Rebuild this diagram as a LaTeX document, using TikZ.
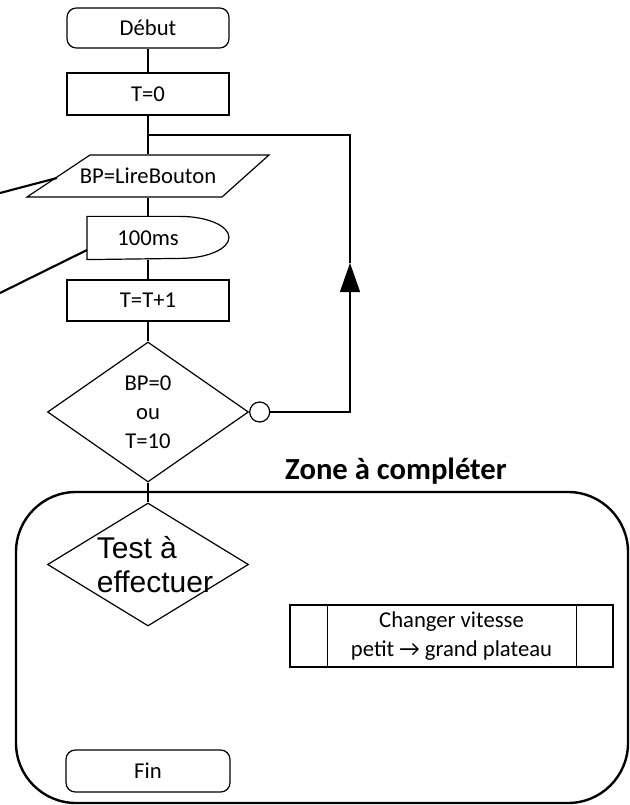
\documentclass[tikz,border=0pt]{standalone}
\usepackage{fontspec}
\setmainfont{Carlito}
\newfontfamily\arialfont{Liberation Sans}
\usetikzlibrary{arrows.meta, shapes.geometric}
\usetikzlibrary{positioning}

\tikzset{
  bloc/.style={draw, line width=0.9pt, minimum width=121.5pt, minimum height=30pt, inner sep=0pt,
    font=\fontsize{17}{21.75}\selectfont},
  terminal/.style={bloc, rounded corners=7pt},
  losange/.style={bloc, diamond, align=center},
  lien/.style={line width=0.9pt},
  renvoi/.style={line width=1.6pt},
}

\begin{document}
\begin{tikzpicture}[x=0.75pt, y=-0.75pt]
  \useasboundingbox (0,0) rectangle (629,805);
  % organigramme
  \node[terminal] (debut) at (148,28) {Début};
  \node[bloc, minimum height=31.5pt] (tzero) at (148,94) {T=0};
  \coordinate (boucle) at (148,135);
  \node[bloc, draw=none, minimum height=31.5pt] (lire) at (148,176) {BP=LireBouton};
  \draw[lien] ([xshift=-43.5pt, yshift=15.75pt]lire.center) -- ([xshift=90.75pt, yshift=15.75pt]lire.center)
    -- ([xshift=55.5pt, yshift=-15.75pt]lire.center) -- ([xshift=-90.75pt, yshift=-15.75pt]lire.center) -- cycle;
  \node[bloc, draw=none, minimum width=0pt, minimum height=31.5pt] (attente) at (148,238) {100ms};
  \draw[lien] ([xshift=-45.75pt]attente.north) -- ([xshift=24pt]attente.north)
    arc[start angle=90, end angle=-90, x radius=36.75pt, y radius=15.75pt]
    -- ([xshift=-45.75pt]attente.south) -- cycle;
  \node[bloc, minimum height=30.75pt] (incr) at (148,300.5) {T=T+1};
  \node[losange, minimum width=150.75pt, minimum height=105pt] (cond) at (148,412) {BP=0\\ou\\T=10};
  \node[draw, circle, line width=0.9pt, minimum size=15pt, inner sep=0pt, anchor=west] (non) at (cond.east) {};

  % zone a completer
  \node[draw, line width=1.8pt, rounded corners=45pt, minimum width=459pt, minimum height=233.25pt] (zone) at (322,647.5) {};
  \node[font=\fontsize{23}{27}\selectfont\bfseries, anchor=base, inner sep=0pt] (titre) at (396,479) {Zone à compléter};
  \node[losange, minimum width=150.75pt, minimum height=92.25pt] (test) at (148,564.5) {};
  \node[font=\arialfont\fontsize{22.5}{25.5}\selectfont, align=left, inner sep=0pt] (testtxt) at (155,565) {Test à\\effectuer};
  \node[bloc, minimum width=242.25pt, minimum height=46.5pt, align=center] (vitesse) at (451.5,636) {Changer vitesse\\petit → grand plateau};
  \draw[lien] ([xshift=28.5pt]vitesse.north west) -- ([xshift=28.5pt]vitesse.south west);
  \draw[lien] ([xshift=-27.75pt]vitesse.north east) -- ([xshift=-27.75pt]vitesse.south east);
  \node[terminal, minimum width=123pt, minimum height=31.5pt] (fin) at (148,771) {Fin};

  % liaisons
  \draw[lien] (debut) -- (tzero);
  \draw[lien] (tzero) -- (lire);
  \draw[lien] (lire) -- (attente);
  \draw[lien] (attente) -- (incr);
  \draw[lien] (incr) -- (cond);
  \draw[lien] (cond) -- (test);
  \coordinate (fleche) at (350,263);
  \draw[lien, -{Triangle[length=21.75pt, width=15pt]}] (non) -| (fleche);
  \draw[lien] (fleche) |- (boucle);

  % renvois
  \coordinate (g1) at (0,193);
  \coordinate (g2) at (0,293);
  \draw[renvoi] (g1) -- ([xshift=-68.25pt, yshift=-1.5pt]lire.center);
  \draw[renvoi] (g2) -- ([xshift=-45.75pt, yshift=-9pt]attente.center);
\end{tikzpicture}
\end{document}
